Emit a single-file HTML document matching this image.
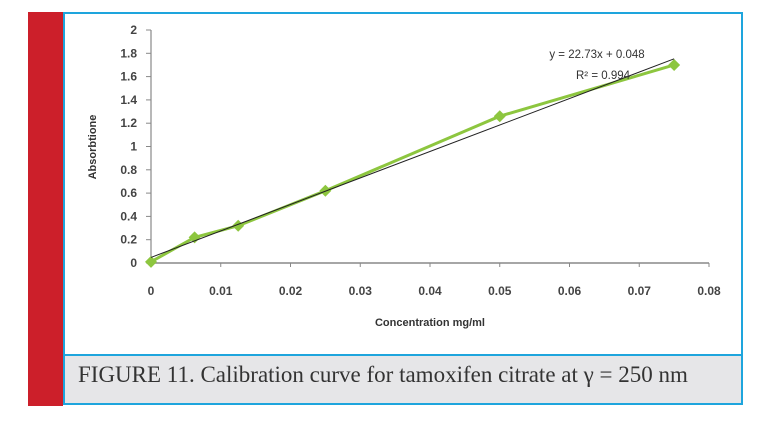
<!DOCTYPE html>
<html><head><meta charset="utf-8"><style>
body{margin:0;background:#fff;width:768px;height:423px;overflow:hidden;position:relative;font-family:"Liberation Sans",sans-serif}
</style></head><body>
<div style="position:absolute;left:28px;top:12px;width:35px;height:394px;background:#cc1f2a"></div>
<div style="position:absolute;left:63px;top:12px;width:676px;height:389px;border:2px solid #1ea5dd;border-left-width:2px"></div>
<div style="position:absolute;left:65px;top:354px;width:676px;height:47px;background:#e6e6e8;border-top:2px solid #1ea5dd"></div>
<div style="position:absolute;left:78px;top:362px;font-family:'Liberation Serif',serif;font-size:23px;color:#333;white-space:nowrap">FIGURE 11. Calibration curve for tamoxifen citrate at γ = 250 nm</div>
<svg id="chart" width="768" height="350" style="position:absolute;left:0;top:0"></svg>
<script>
const xVals=[0,0.00625,0.0125,0.025,0.05,0.075];
const yVals=[0.01,0.22,0.32,0.62,1.26,1.70];
const xTicks=[0,0.01,0.02,0.03,0.04,0.05,0.06,0.07,0.08];
const yTicks=[0,0.2,0.4,0.6,0.8,1,1.2,1.4,1.6,1.8,2];
const slope=22.73, intercept=0.048;
const X=v=>151+v/0.08*558, Y=v=>263-v/2*233;
const svg=document.getElementById('chart');
const NS='http://www.w3.org/2000/svg';
function mk(t,a,txt){const e=document.createElementNS(NS,t);for(const k in a)e.setAttribute(k,a[k]);if(txt!==undefined)e.textContent=txt;svg.appendChild(e);return e;}
let e;
e=mk('line',{x1:X(0),y1:Y(0),x2:X(0.08),y2:Y(0),stroke:'#888','stroke-width':1.5});


e=mk('line',{x1:X(0),y1:Y(0),x2:X(0),y2:Y(2),stroke:'#888','stroke-width':1.2});


xTicks.forEach(t=>{
 mk('line',{x1:X(t),y1:Y(0),x2:X(t),y2:Y(0)+4,stroke:'#888'});
 e=mk('text',{x:X(t),y:295,'text-anchor':'middle','font-size':12,'font-weight':'bold',fill:'#444'},String(t));
 
 
});
yTicks.forEach(t=>{
 mk('line',{x1:X(0)-5,y1:Y(t),x2:X(0),y2:Y(t),stroke:'#888'});
 e=mk('text',{x:137,y:Y(t)+4,'text-anchor':'end','font-size':12,'font-weight':'bold',fill:'#444'},String(t));
 
 
});
e=mk('text',{x:0,y:0,transform:'translate(96,147) rotate(-90)','text-anchor':'middle','font-size':11,'font-weight':'bold',fill:'#333'},'Absorbtione');


e=mk('text',{x:430,y:326,'text-anchor':'middle','font-size':11,'font-weight':'bold',fill:'#333'},'Concentration mg/ml');


e=mk('polyline',{points:xVals.map((x,i)=>X(x)+','+Y(yVals[i])).join(' '),fill:'none',stroke:'#8dc63f','stroke-width':3});


xVals.forEach((x,i)=>{
 const cx=X(x),cy=Y(yVals[i]);
 e=mk('polygon',{points:`${cx},${cy-6} ${cx+6},${cy} ${cx},${cy+6} ${cx-6},${cy}`,fill:'#8dc63f'});
 
 
});
const xMax=xVals[xVals.length-1];
e=mk('line',{x1:X(0),y1:Y(intercept),x2:X(xMax),y2:Y(slope*xMax+intercept),stroke:'#222','stroke-width':1});


e=mk('text',{x:597,y:58,'text-anchor':'middle','font-size':11.5,fill:'#333'},'y = 22.73x + 0.048');


e=mk('text',{x:603,y:79,'text-anchor':'middle','font-size':11.5,fill:'#333'},'R² = 0.994');


</script>
</body></html>
